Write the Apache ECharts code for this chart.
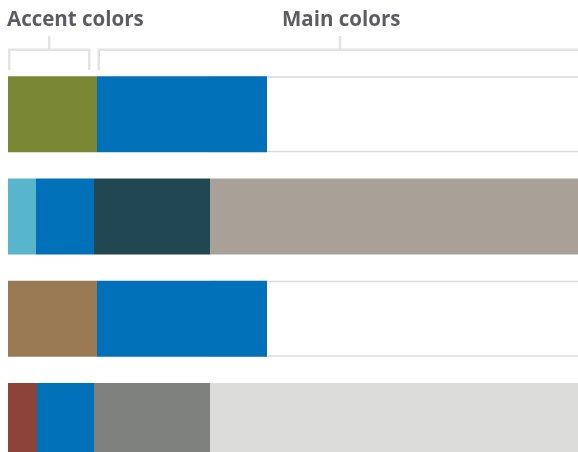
<!DOCTYPE html>
<html>
<head>
<meta charset="utf-8">
<script src="https://cdn.jsdelivr.net/npm/echarts@6/dist/echarts.min.js"></script>
<style>
html,body{margin:0;padding:0;background:#fff;}
#c{width:578px;height:452px;}
</style>
</head>
<body>
<div id="c"></div>
<script>
// Rows (top to bottom)
const rows = ['Row 1', 'Row 2', 'Row 3', 'Row 4'];
// Segment widths per row (in swatch units)
const seg1 = [89, 28, 89, 29];
const seg2 = [170, 58, 170, 57];
const seg3 = [0, 116, 0, 116];
const seg4 = [0, 368, 0, 368];
// Swatch colors per row for each segment
const seg1Colors = ['#7a8735', '#57b5cc', '#9a7a54', '#8c4438'];
const seg2Colors = ['#0070b9', '#0070b9', '#0070b9', '#0070b9'];
const seg3Colors = ['#214753', '#214753', '#7f817e', '#7f817e'];
const seg4Colors = ['#a9a197', '#a9a197', '#dcdcda', '#dcdcda'];
// Empty outlined slot on rows 1 and 3
const frameStart = [201, null, 201, null];
const frameLength = [390, null, 390, null];
const axisMax = 576;
// Labels
const labelAccent = 'Accent colors';
const labelMain = 'Main colors';

const chart = echarts.init(document.getElementById('c'), null, {renderer: 'canvas'});

function segSeries(name, vals, cols) {
  return {
    name: name, type: 'bar', stack: 'main', barWidth: 76, barGap: '-100%',
    z: 3, silent: true,
    data: vals.map((v, i) => ({value: v, itemStyle: {color: cols[i]}}))
  };
}

const gray = '#e3e3e3';
const bw = 2.5;
const font = 'bold 20.5px "Open Sans"';
const option = {
  animation: false,
  backgroundColor: '#ffffff',
  grid: {left: 8, right: -6, top: 63, height: 409, containLabel: false, outerBoundsMode: 'none'},
  xAxis: {type: 'value', min: 0, max: axisMax, show: false},
  yAxis: {type: 'category', data: rows, inverse: true, show: false},
  series: [
    {name: 'frameBase', type: 'bar', stack: 'frame', barWidth: 76, barGap: '-100%', z: 1, silent: true,
     itemStyle: {color: 'transparent'}, data: frameStart},
    {name: 'frame', type: 'bar', stack: 'frame', barWidth: 76, barGap: '-100%', z: 1, silent: true, clip: true,
     itemStyle: {color: '#ffffff', borderColor: '#e2d6da', borderWidth: 1.5}, data: frameLength},
    segSeries('s1', seg1, seg1Colors),
    segSeries('s2', seg2, seg2Colors),
    segSeries('s3', seg3, seg3Colors),
    segSeries('s4', seg4, seg4Colors)
  ],
  graphic: [
    {type: 'text', left: 7, top: 9.5, style: {text: labelAccent, font: font, fill: '#5c5d62'}},
    {type: 'text', left: 282, top: 9.5, style: {text: labelMain, font: font, fill: '#5c5d62'}},
    // accent bracket
    {type: 'polyline', shape: {points: [[9.25, 70], [9.25, 49.75], [89.25, 49.75], [89.25, 70]]}, style: {stroke: gray, lineWidth: bw, fill: null}},
    {type: 'line', shape: {x1: 49.25, y1: 36, x2: 49.25, y2: 49.75}, style: {stroke: gray, lineWidth: bw}},
    // main bracket
    {type: 'polyline', shape: {points: [[98.75, 70], [98.75, 49.75], [580, 49.75]]}, style: {stroke: gray, lineWidth: bw, fill: null}},
    {type: 'line', shape: {x1: 340, y1: 36, x2: 340, y2: 49.75}, style: {stroke: gray, lineWidth: bw}}
  ]
};
chart.setOption(option);
</script>
</body>
</html>
